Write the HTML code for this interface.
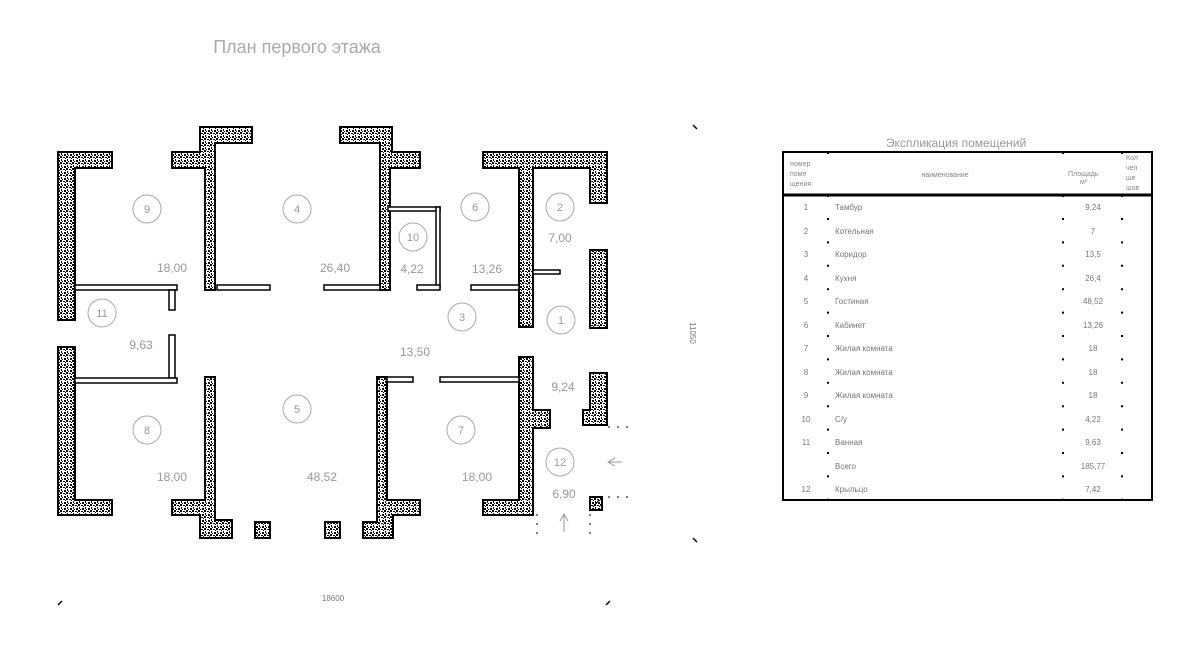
<!DOCTYPE html>
<html><head><meta charset="utf-8"><style>
html,body{margin:0;padding:0;background:#fff;}
svg{display:block;}
text{font-family:"Liberation Sans",sans-serif;}
</style></head><body>
<svg width="1201" height="648" viewBox="0 0 1201 648" xmlns="http://www.w3.org/2000/svg">
<defs>
<pattern id="sp" width="6" height="6" patternUnits="userSpaceOnUse">
<rect width="6" height="6" fill="#fff"/>
<rect x="0" y="0" width="2" height="2" fill="#000"/>
<rect x="3" y="1" width="2" height="1" fill="#000"/>
<rect x="1" y="3" width="1" height="2" fill="#000"/>
<rect x="4" y="4" width="2" height="2" fill="#000"/>
<rect x="2" y="5" width="1" height="1" fill="#000"/>
<rect x="5" y="2" width="1" height="1" fill="#000"/>
</pattern>
</defs>
<g fill="url(#sp)" stroke="#000" stroke-width="2">
<polygon points="58,152 112,152 112,168 75,168 75,320 58,320"/>
<polygon points="200,127 252,127 252,143 215,143 215,290 205,290 205,168 172,168 172,152 200,152"/>
<polygon points="340,127 392,127 392,152 420,152 420,168 390,168 390,290 380,290 380,143 340,143"/>
<polygon points="483,152 607,152 607,203 590,203 590,168 533,168 533,327 519,327 519,168 483,168"/>
<rect x="590" y="250" width="17" height="78"/>
<polygon points="58,347 75,347 75,500 112,500 112,515 58,515"/>
<polygon points="205,377 215,377 215,520 232,520 232,538 200,538 200,515 172,515 172,500 205,500"/>
<polygon points="377,377 387,377 387,500 420,500 420,515 393,515 393,538 363,538 363,522 377,522"/>
<polygon points="519,357 533,357 533,410 550,410 550,428 533,428 533,515 483,515 483,500 519,500"/>
<polygon points="590,373 607,373 607,425 583,425 583,410 590,410"/>
<rect x="255" y="522" width="15" height="16"/>
<rect x="325" y="522" width="15" height="16"/>
<rect x="590" y="497" width="12" height="13"/>
</g>
<g fill="#fff" stroke="#000" stroke-width="1.5">
<rect x="75" y="285" width="102" height="5"/>
<rect x="169" y="290" width="6" height="20"/>
<rect x="217" y="285" width="53" height="5"/>
<rect x="324" y="285" width="56" height="5"/>
<rect x="388" y="207" width="52" height="4"/>
<rect x="436" y="207" width="4" height="80"/>
<rect x="417" y="285" width="23" height="5"/>
<rect x="471" y="285" width="48" height="5"/>
<rect x="533" y="270" width="27" height="4"/>
<rect x="169" y="335" width="6" height="43"/>
<rect x="75" y="378" width="102" height="5"/>
<rect x="387" y="377" width="26" height="5"/>
<rect x="440" y="377" width="79" height="5"/>
</g>
<g fill="none" stroke="#aaa" stroke-width="1">
<circle cx="147" cy="209" r="14"/><circle cx="297" cy="209" r="14"/>
<circle cx="413" cy="237" r="14"/><circle cx="475" cy="207" r="14"/>
<circle cx="560" cy="207" r="14"/><circle cx="102" cy="313" r="14"/>
<circle cx="462" cy="317" r="14"/><circle cx="561" cy="320" r="14"/>
<circle cx="147" cy="430" r="14"/><circle cx="297" cy="409" r="14"/>
<circle cx="461" cy="430" r="14"/><circle cx="560" cy="462" r="14"/>
</g>
<g fill="#999" font-size="11" text-anchor="middle">
<text x="147" y="213">9</text><text x="297" y="213">4</text>
<text x="413" y="241">10</text><text x="475" y="211">6</text>
<text x="560" y="211">2</text><text x="102" y="317">11</text>
<text x="462" y="321">3</text><text x="561" y="324">1</text>
<text x="147" y="434">8</text><text x="297" y="413">5</text>
<text x="461" y="434">7</text><text x="560" y="466">12</text>
</g>
<g fill="#999" font-size="12" text-anchor="middle">
<text x="172" y="272">18,00</text><text x="335" y="272">26,40</text>
<text x="412" y="273">4,22</text><text x="487" y="273">13,26</text>
<text x="560" y="242">7,00</text><text x="141" y="349">9,63</text>
<text x="415" y="356">13,50</text><text x="172" y="481">18,00</text>
<text x="322" y="481">48,52</text><text x="477" y="481">18,00</text>
<text x="563" y="391">9,24</text><text x="564" y="498">6,90</text>
</g>
<text x="297" y="53" fill="#aaa" font-size="18" text-anchor="middle">План первого этажа</text>
<text x="333" y="601" fill="#777" font-size="8" text-anchor="middle">18600</text>
<text x="690" y="333" fill="#777" font-size="8" text-anchor="middle" transform="rotate(90 690 333)">11050</text>
<g stroke="#000" stroke-width="1.5">
<line x1="693" y1="125" x2="697" y2="129"/><line x1="693" y1="538" x2="697" y2="542"/>
<line x1="58" y1="605" x2="62" y2="601"/><line x1="606" y1="605" x2="610" y2="601"/>
</g>
<g stroke="#000" stroke-width="1" stroke-dasharray="2,7" fill="none">
<line x1="608" y1="427" x2="630" y2="427"/><line x1="608" y1="497" x2="630" y2="497"/>
<line x1="590" y1="514" x2="590" y2="535"/><line x1="537" y1="514" x2="537" y2="535"/>
</g>
<g stroke="#999" stroke-width="1" fill="none">
<line x1="564" y1="514" x2="564" y2="532"/><path d="M560,521 L564,514 L568,521"/>
<path d="M615,458 L608,462 L615,466"/><line x1="608" y1="462" x2="622" y2="462"/>
</g>
<line x1="593" y1="507" x2="599" y2="500" stroke="#000"/>
<text x="956" y="147" fill="#999" font-size="12" text-anchor="middle">Экспликация помещений</text>
<rect x="783" y="152" width="369" height="348" fill="none" stroke="#000" stroke-width="2"/>
<line x1="783" y1="195" x2="1152" y2="195" stroke="#000" stroke-width="3"/>
<g font-size="7" fill="#888">
<text x="790" y="166">номер</text><text x="790" y="176">поме</text><text x="790" y="186">щения</text>
<text x="945" y="177" text-anchor="middle">наименование</text>
<text x="1068" y="176">Площадь</text><text x="1080" y="184">м²</text>
<text x="1126" y="160">Кол</text><text x="1126" y="170">чел</text><text x="1126" y="180">ше</text><text x="1126" y="190">шов</text>
</g>
<g font-size="8" fill="#777">
<text x="806" y="210" text-anchor="middle">1</text><text x="835" y="210">Тамбур</text><text x="1093" y="210" text-anchor="middle">9,24</text>
<text x="806" y="234" text-anchor="middle">2</text><text x="835" y="234">Котельная</text><text x="1093" y="234" text-anchor="middle">7</text>
<text x="806" y="257" text-anchor="middle">3</text><text x="835" y="257">Коридор</text><text x="1093" y="257" text-anchor="middle">13,5</text>
<text x="806" y="281" text-anchor="middle">4</text><text x="835" y="281">Кухня</text><text x="1093" y="281" text-anchor="middle">26,4</text>
<text x="806" y="304" text-anchor="middle">5</text><text x="835" y="304">Гостиная</text><text x="1093" y="304" text-anchor="middle">48,52</text>
<text x="806" y="328" text-anchor="middle">6</text><text x="835" y="328">Кабинет</text><text x="1093" y="328" text-anchor="middle">13,26</text>
<text x="806" y="351" text-anchor="middle">7</text><text x="835" y="351">Жилая комната</text><text x="1093" y="351" text-anchor="middle">18</text>
<text x="806" y="375" text-anchor="middle">8</text><text x="835" y="375">Жилая комната</text><text x="1093" y="375" text-anchor="middle">18</text>
<text x="806" y="398" text-anchor="middle">9</text><text x="835" y="398">Жилая комната</text><text x="1093" y="398" text-anchor="middle">18</text>
<text x="806" y="422" text-anchor="middle">10</text><text x="835" y="422">С/у</text><text x="1093" y="422" text-anchor="middle">4,22</text>
<text x="806" y="445" text-anchor="middle">11</text><text x="835" y="445">Ванная</text><text x="1093" y="445" text-anchor="middle">9,63</text>
<text x="835" y="469">Всего</text><text x="1093" y="469" text-anchor="middle">185,77</text>
<text x="806" y="492" text-anchor="middle">12</text><text x="835" y="492">Крыльцо</text><text x="1093" y="492" text-anchor="middle">7,42</text>
</g>
<g fill="#000">
<rect x="827" y="151" width="2" height="3"/><rect x="1062" y="151" width="2" height="3"/><rect x="1121" y="151" width="2" height="3"/>
<rect x="827" y="194" width="2" height="3"/><rect x="1062" y="194" width="2" height="3"/><rect x="1121" y="194" width="2" height="3"/>
</g>
<g stroke="#000" stroke-width="2" stroke-dasharray="2,21.4" fill="none">
<line x1="828" y1="218" x2="828" y2="500"/><line x1="1063" y1="218" x2="1063" y2="500"/><line x1="1122" y1="218" x2="1122" y2="500"/>
</g>
</svg>
</body></html>
